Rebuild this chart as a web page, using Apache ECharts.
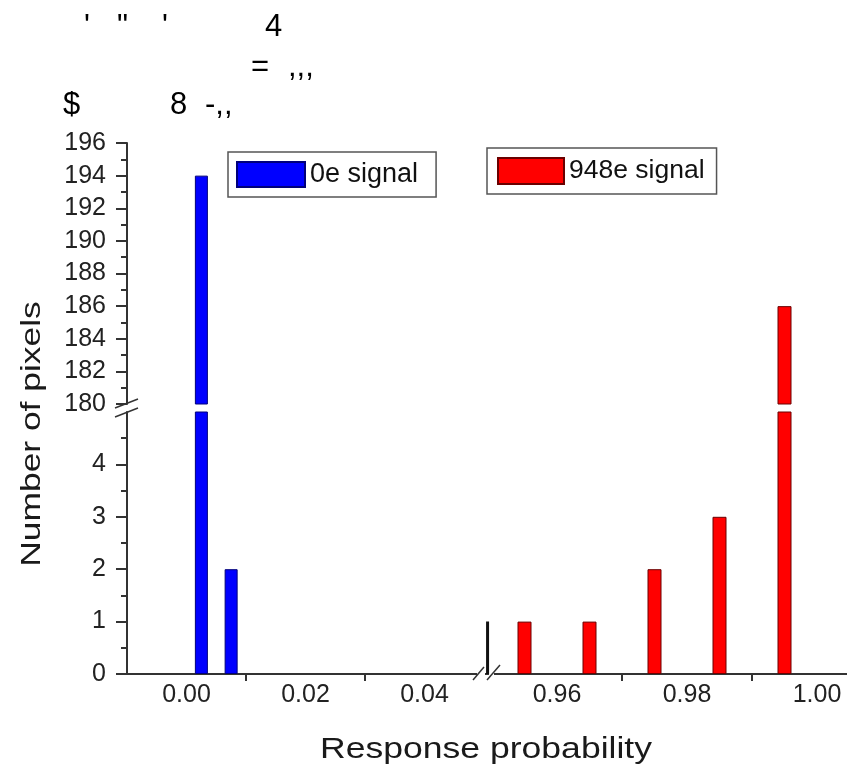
<!DOCTYPE html>
<html><head><meta charset="utf-8">
<script src="https://cdn.jsdelivr.net/npm/echarts@6/dist/echarts.min.js"></script>
<style>html,body{margin:0;padding:0;background:#fff}#c{width:847px;height:766px}</style>
</head><body><div id="c"></div>
<script>
// ---- data ----
const seriesNames = ['0e signal', '948e signal'];
const blueX = [0.0025, 0.0075];
const blueY = [194, 2];
const redX = [0.955, 0.965, 0.975, 0.985, 0.995];
const redY = [1, 1, 2, 3, 186];
const strayX = [0.0506, 0.0506];
const strayY = [0, 1];
const xLabelsLeft = [0.00, 0.02, 0.04];
const xTicksLeft = [0.01, 0.03];
const xLabelsRight = [0.96, 0.98, 1.00];
const xTicksRight = [0.97, 0.99];
const yLabelsLow = [0, 1, 2, 3, 4];
const yLabelsHigh = [180, 182, 184, 186, 188, 190, 192, 194, 196];
const xTitle = 'Response probability';
const yTitle = 'Number of pixels';
const headerTexts = ["'", '"', "'", '4', '=', ',,,', '$', '8', '-,,'];

// ---- layout ----
const FONT = "'Liberation Sans', Arial, sans-serif";
const PX_L = 5950, PX_R = 6500;
const L = {left: 127, leftW: 363, right: 492, rightW: 355, lowTop: 412, lowH: 262, highTop: 143, highH: 261};
const headerPos = [[84, 27], [117, 27], [162, 27], [265, 27], [251, 67], [288, 67], [63, 105], [170, 105], [205, 105]];

const zip = (a, b) => a.map((v, i) => [v, b[i]]);
const axisLineStyle = {color: '#333', width: 2};
const labelStyle = {fontSize: 25, color: '#222', fontFamily: FONT};
const leftMax = -0.01 + L.leftW / PX_L;
const rightMax = 0.95 + L.rightW / PX_R;

function xAxis(grid, min, max, ticks, labels, show) {
  return {
    type: 'value', gridIndex: grid, min: min, max: max, show: show, position: 'bottom',
    axisLine: {show: true, onZero: false, lineStyle: axisLineStyle},
    axisTick: {show: true, customValues: ticks, length: 7, lineStyle: {color: '#333', width: 2}},
    axisLabel: {show: true, customValues: labels, margin: 9, formatter: v => v.toFixed(2), ...labelStyle},
    splitLine: {show: false}, minorTick: {show: false}
  };
}
function yAxis(grid, min, max, interval, labels, show) {
  return {
    type: 'value', gridIndex: grid, min: min, max: max, interval: interval, show: show,
    axisLine: {show: true, onZero: false, lineStyle: axisLineStyle},
    axisTick: {show: true, customValues: labels, length: 11, lineStyle: {color: '#333', width: 2}},
    minorTick: {show: true, splitNumber: 2, length: 6, lineStyle: {color: '#333', width: 2}},
    axisLabel: {show: true, customValues: labels, margin: 21, ...labelStyle},
    splitLine: {show: false}, minorSplitLine: {show: false}
  };
}

const blueStyle = {color: '#0000ff', borderColor: '#00007a', borderWidth: 1};
const redStyle = {color: '#ff0000', borderColor: '#6a0000', borderWidth: 1};

const option = {
  backgroundColor: '#fff',
  animation: false,
  grid: [
    {left: L.left, width: L.leftW, top: L.lowTop, height: L.lowH},
    {left: L.right, width: L.rightW, top: L.lowTop, height: L.lowH},
    {left: L.left, width: L.leftW, top: L.highTop, height: L.highH},
    {left: L.right, width: L.rightW, top: L.highTop, height: L.highH}
  ],
  xAxis: [
    xAxis(0, -0.01, leftMax, xTicksLeft, xLabelsLeft, true),
    xAxis(1, 0.95, rightMax, xTicksRight, xLabelsRight, true),
    xAxis(2, -0.01, leftMax, [], [], false),
    xAxis(3, 0.95, rightMax, [], [], false)
  ],
  yAxis: [
    yAxis(0, 0, 5, 1, yLabelsLow, true),
    yAxis(1, 0, 5, 1, [], false),
    yAxis(2, 180, 196, 2, yLabelsHigh, true),
    yAxis(3, 180, 196, 2, [], false)
  ],
  legend: [
    {data: [seriesNames[0]], left: 228, top: 152, icon: 'rect', itemWidth: 68, itemHeight: 25,
     padding: [9, 18, 9, 8], borderColor: '#555', borderWidth: 1.5, itemGap: 0,
     textStyle: {fontSize: 27, color: '#111', fontFamily: FONT}, selectedMode: false},
    {data: [seriesNames[1]], left: 487, top: 148, icon: 'rect', itemWidth: 66, itemHeight: 26,
     padding: [9, 12, 9, 10], borderColor: '#555', borderWidth: 1.5, itemGap: 0,
     textStyle: {fontSize: 26.5, color: '#111', fontFamily: FONT}, selectedMode: false}
  ],
  series: [
    {type: 'bar', name: seriesNames[0], xAxisIndex: 0, yAxisIndex: 0, barWidth: 13, data: zip(blueX, blueY), itemStyle: blueStyle},
    {type: 'bar', name: seriesNames[0], xAxisIndex: 2, yAxisIndex: 2, barWidth: 13, data: zip(blueX, blueY), itemStyle: blueStyle},
    {type: 'bar', name: seriesNames[1], xAxisIndex: 1, yAxisIndex: 1, barWidth: 14, data: zip(redX, redY), itemStyle: redStyle},
    {type: 'bar', name: seriesNames[1], xAxisIndex: 3, yAxisIndex: 3, barWidth: 14, data: zip(redX, redY), itemStyle: redStyle},
    {type: 'line', xAxisIndex: 0, yAxisIndex: 0, data: zip(strayX, strayY), symbol: 'none', z: 10,
     lineStyle: {color: '#111', width: 3}, silent: true}
  ],
  graphic: [
    ...headerTexts.map((t, i) => ({type: 'text', x: headerPos[i][0], y: headerPos[i][1],
      style: {text: t, font: '31px ' + FONT, fill: '#000', align: 'left', verticalAlign: 'middle'}})),
    {type: 'text', x: 486, y: 750, scaleX: 1.185,
     style: {text: xTitle, font: '30px ' + FONT, fill: '#1a1a1a', align: 'center', verticalAlign: 'middle'}},
    {type: 'text', x: 33, y: 434, rotation: Math.PI / 2, scaleX: 1.31,
     style: {text: yTitle, font: '27px ' + FONT, fill: '#1a1a1a', align: 'center', verticalAlign: 'middle'}},
    // axis break slashes
    {type: 'line', shape: {x1: 115, y1: 408, x2: 138, y2: 399}, style: {stroke: '#333', lineWidth: 1.5}},
    {type: 'line', shape: {x1: 115, y1: 417, x2: 138, y2: 408}, style: {stroke: '#333', lineWidth: 1.5}},
    {type: 'rect', shape: {x: 477, y: 670, width: 8, height: 8}, style: {fill: '#fff'}, z: 1},
    {type: 'rect', shape: {x: 489, y: 670, width: 5, height: 8}, style: {fill: '#fff'}, z: 1},
    {type: 'line', shape: {x1: 473, y1: 680, x2: 484, y2: 667}, style: {stroke: '#333', lineWidth: 1.5}, z: 2},
    {type: 'line', shape: {x1: 487, y1: 680, x2: 500, y2: 665}, style: {stroke: '#333', lineWidth: 1.5}, z: 2}
  ]
};
const chart = echarts.init(document.getElementById('c'), null, {renderer: 'canvas'});
chart.setOption(option);
</script></body></html>
